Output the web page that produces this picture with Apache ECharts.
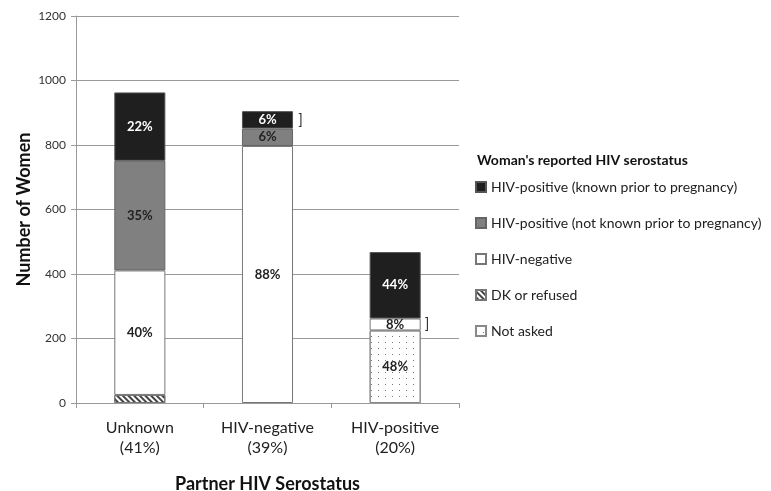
<!DOCTYPE html>
<html>
<head>
<meta charset="utf-8">
<script src="https://cdn.jsdelivr.net/npm/echarts@6/dist/echarts.min.js"></script>
<style>
  html, body { margin: 0; padding: 0; background: #fff; }
  #main { width: 771px; height: 491px; }
</style>
</head>
<body>
<div id="main"></div>
<script>
// partner serostatus categories
var categories = ['Unknown\n(41%)', 'HIV-negative\n(39%)', 'HIV-positive\n(20%)'];

// number of women, by woman's reported status ('-' = none)
var dkRefused   = [25, '-', '-'];
var notAsked    = ['-', '-', 225];
var hivNeg      = [386, 797, 37];
var posNotKnown = [340, 54, '-'];
var posKnown    = [212, 54, 206];

// segment labels
var lblNotAsked    = ['', '', '48%'];
var lblNeg         = ['40%', '88%', '8%'];
var lblNotKnown    = ['35%', '6%', ''];
var lblKnown       = ['22%', '6%', '44%'];

var FONT = 'Lato';

function makeData(vals, lbls) {
    return vals.map(function (v, i) {
        return { value: v, label: { formatter: lbls ? lbls[i] : '' } };
    });
}

var chart = echarts.init(document.getElementById('main'));

var barCommon = {
    type: 'bar',
    stack: 'total',
    barWidth: '40%',
    label: {
        show: true,
        position: 'inside',
        fontFamily: FONT,
        fontSize: 13,
        fontWeight: 'bold',
        color: '#222'
    }
};

chart.setOption({
    animation: false,
    title: {
        text: "Woman's reported HIV serostatus",
        left: 472,
        top: 148,
        textStyle: { fontFamily: FONT, fontSize: 14, fontWeight: 'bold', color: '#111' }
    },
    legend: {
        orient: 'vertical',
        left: 470,
        top: 175,
        itemWidth: 10,
        itemHeight: 10,
        itemGap: 22,
        icon: 'rect',
        textStyle: { fontFamily: FONT, fontSize: 14, color: '#222' },
        data: [
            'HIV-positive (known prior to pregnancy)',
            'HIV-positive (not known prior to pregnancy)',
            'HIV-negative',
            'DK or refused',
            'Not asked'
        ]
    },
    grid: { left: 76, right: 312, top: 16, bottom: 88, containLabel: false, outerBoundsMode: 'none' },
    xAxis: {
        type: 'category',
        data: categories,
        name: 'Partner HIV Serostatus',
        nameLocation: 'middle',
        nameGap: 72,
        nameTextStyle: { fontFamily: FONT, fontSize: 18, fontWeight: 'bold', color: '#111' },
        axisLine: { lineStyle: { color: '#999' } },
        axisTick: { show: true, length: 5, lineStyle: { color: '#999' } },
        axisLabel: { fontFamily: FONT, fontSize: 16, color: '#222', lineHeight: 20, margin: 15 }
    },
    yAxis: {
        type: 'value',
        min: 0,
        max: 1200,
        interval: 200,
        name: 'Number of Women',
        nameLocation: 'middle',
        nameGap: 43,
        nameTextStyle: { fontFamily: FONT, fontSize: 18, fontWeight: 'bold', color: '#111' },
        axisLine: { show: true, lineStyle: { color: '#999' } },
        axisTick: { show: true, length: 5, lineStyle: { color: '#999' } },
        axisLabel: {
            fontFamily: FONT, fontSize: 12, color: '#333', margin: 10,
            formatter: function (v) { return String(v); }
        },
        splitLine: { lineStyle: { color: '#999' } }
    },
    series: [
        Object.assign({}, barCommon, {
            name: 'DK or refused',
            data: makeData(dkRefused),
            itemStyle: {
                color: '#fff', borderColor: '#777', borderWidth: 1,
                decal: { symbol: 'rect', symbolSize: 1, dashArrayX: [1, 0], dashArrayY: [2, 2], rotation: Math.PI / 4, color: '#444' }
            }
        }),
        Object.assign({}, barCommon, {
            name: 'Not asked',
            data: makeData(notAsked, lblNotAsked),
            itemStyle: {
                color: '#fff', borderColor: '#888', borderWidth: 1,
                decal: { symbol: 'rect', symbolSize: 1, dashArrayX: [1, 6], dashArrayY: [1, 5], color: '#777' }
            }
        }),
        Object.assign({}, barCommon, {
            name: 'HIV-negative',
            data: makeData(hivNeg, lblNeg),
            itemStyle: { color: '#fff', borderColor: '#777', borderWidth: 1 }
        }),
        Object.assign({}, barCommon, {
            name: 'HIV-positive (not known prior to pregnancy)',
            data: makeData(posNotKnown, lblNotKnown),
            itemStyle: { color: '#808080', borderColor: '#666', borderWidth: 1 }
        }),
        Object.assign({}, barCommon, {
            name: 'HIV-positive (known prior to pregnancy)',
            data: makeData(posKnown, lblKnown),
            label: Object.assign({}, barCommon.label, { color: '#fff' }),
            itemStyle: { color: '#1f1f1f', borderColor: '#555', borderWidth: 1 },
            markPoint: {
                symbol: 'rect',
                symbolSize: 1,
                itemStyle: { color: 'rgba(0,0,0,0)' },
                label: {
                    show: true, formatter: ']', position: 'inside',
                    fontFamily: FONT, fontSize: 15, color: '#333'
                },
                data: [
                    // beside the small top segment of HIV-negative partners
                    { coord: [1, hivNeg[1] + posNotKnown[1] + posKnown[1] / 2], label: { offset: [33, 0] } },
                    // beside the 8% HIV-negative segment of HIV-positive partners
                    { coord: [2, notAsked[2] + hivNeg[2] / 2], label: { offset: [32, 0] } }
                ]
            }
        })
    ]
});
</script>
</body>
</html>
